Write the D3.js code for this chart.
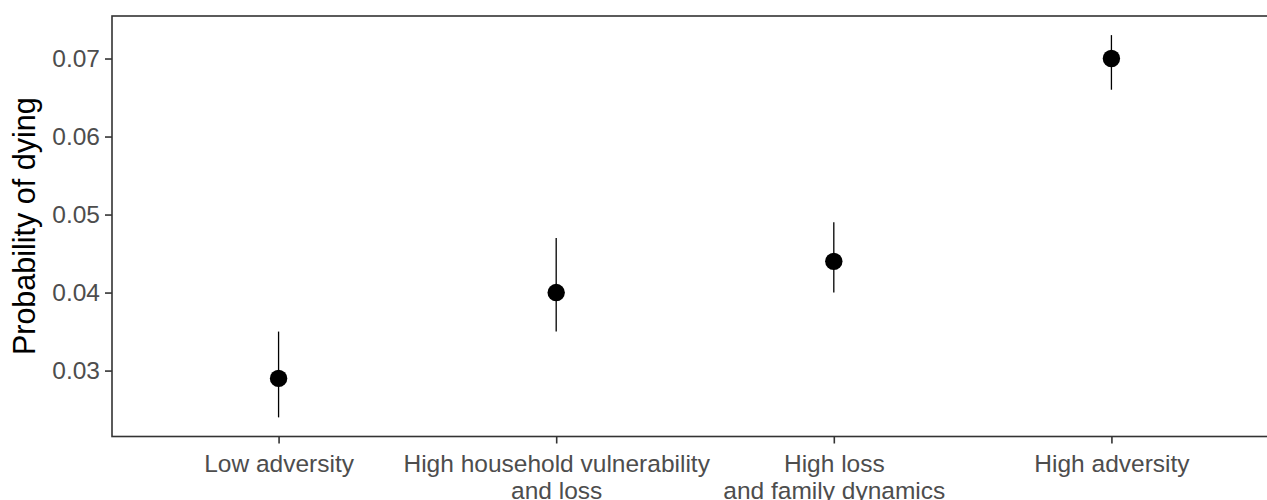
<!DOCTYPE html>
<html>
<head>
<meta charset="utf-8">
<script src="https://cdn.jsdelivr.net/npm/d3@7"></script>
<style>
  html, body { margin: 0; padding: 0; background: #fff; }
  svg { display: block; font-family: 'Liberation Sans', Arial, Helvetica, sans-serif; }
</style>
</head>
<body>
<div id="chart"></div>
<script>
const categories = ['Low adversity', 'High household vulnerability\nand loss', 'High loss\nand family dynamics', 'High adversity']
const estimates = [0.029, 0.040, 0.044, 0.070]
const lowerCI = [0.024, 0.035, 0.040, 0.066]
const upperCI = [0.035, 0.047, 0.049, 0.073]
const yTicks = [0.03, 0.04, 0.05, 0.06, 0.07]

const width = 1267
const height = 500
// panel runs past the right edge of the picture, as in the reference crop
const panel = { left: 112, right: 1278, top: 16, bottom: 436.5 }

const data = categories.map((c, i) => ({ label: c, est: estimates[i], lo: lowerCI[i], hi: upperCI[i] }))

const svg = d3.select('#chart').append('svg')
  .attr('xmlns', 'http://www.w3.org/2000/svg')
  .attr('width', width)
  .attr('height', height)
  .attr('viewBox', `0 0 ${width} ${height}`)

const x = d3.scalePoint().domain(categories).range([panel.left, panel.right]).padding(0.6)

const lo = d3.min(lowerCI), hi = d3.max(upperCI)
const pad = (hi - lo) * 0.05
const y = d3.scaleLinear().domain([lo - pad, hi + pad]).range([panel.bottom, panel.top])

// y axis ticks + labels
const yAxis = svg.append('g')
  .attr('transform', `translate(${panel.left},0)`)
  .call(d3.axisLeft(y).tickValues(yTicks).tickSize(7).tickPadding(5).tickFormat(d3.format('.2f')))
yAxis.select('.domain').remove()
yAxis.selectAll('line').attr('stroke', '#333').attr('stroke-width', 1.6)
yAxis.selectAll('text').attr('fill', '#4d4d4d').attr('font-size', 24.5).attr('font-family', null)

// x axis ticks + labels (two lines)
const xAxis = svg.append('g')
  .attr('transform', `translate(0,${panel.bottom})`)
  .call(d3.axisBottom(x).tickSize(7).tickFormat(''))
xAxis.select('.domain').remove()
xAxis.selectAll('line').attr('stroke', '#333').attr('stroke-width', 1.6)
xAxis.selectAll('.tick').each(function (d) {
  const t = d3.select(this).append('text')
    .attr('fill', '#4d4d4d')
    .attr('font-size', 24.5)
    .attr('text-anchor', 'middle')
  d.split('\n').forEach((s, i) => {
    t.append('tspan').attr('x', 0).attr('y', 35 + i * 27).text(s)
  })
})

// panel border
svg.append('rect')
  .attr('x', panel.left).attr('y', panel.top)
  .attr('width', panel.right - panel.left).attr('height', panel.bottom - panel.top)
  .attr('fill', 'none').attr('stroke', '#333').attr('stroke-width', 1.6)

// error bars
svg.append('g').selectAll('line')
  .data(data)
  .join('line')
  .attr('x1', (d) => x(d.label)).attr('x2', (d) => x(d.label))
  .attr('y1', (d) => y(d.lo)).attr('y2', (d) => y(d.hi))
  .attr('stroke', '#000').attr('stroke-width', 1.3)

// points
svg.append('g').selectAll('circle')
  .data(data)
  .join('circle')
  .attr('cx', (d) => x(d.label))
  .attr('cy', (d) => y(d.est))
  .attr('r', 8.7)
  .attr('fill', '#000')

// y title
svg.append('text')
  .attr('transform', `translate(35,${(panel.top + panel.bottom) / 2}) rotate(-90)`)
  .attr('text-anchor', 'middle')
  .attr('font-size', 30.5)
  .attr('fill', '#000')
  .text('Probability of dying')
</script>
</body>
</html>
